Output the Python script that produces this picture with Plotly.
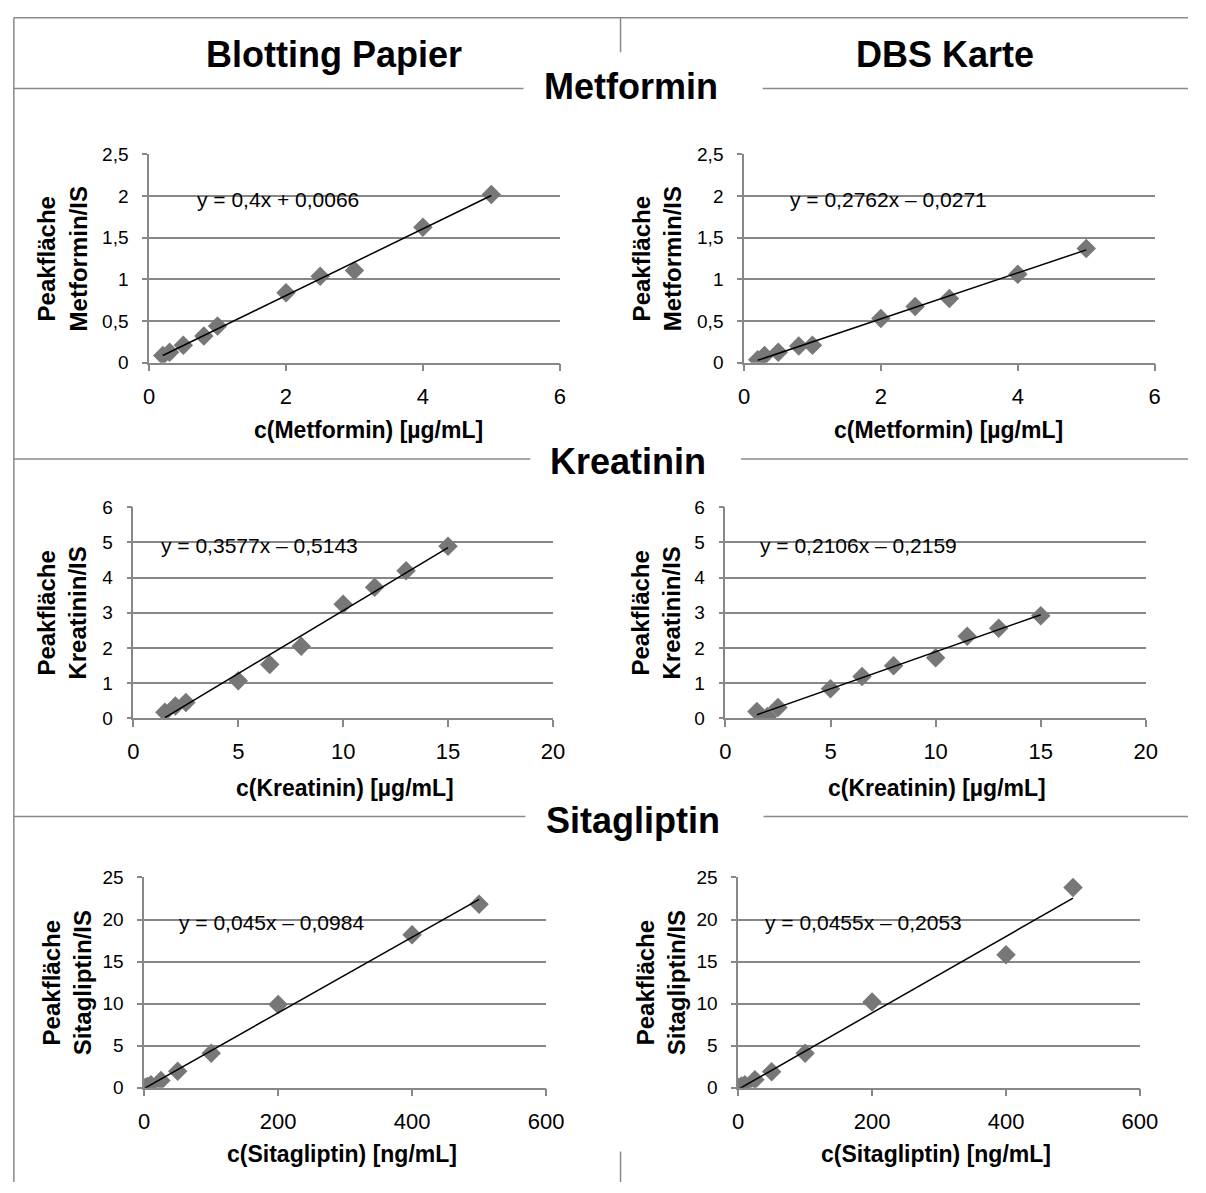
import plotly.graph_objects as go

W, H = 1206, 1193

# ---------------- data ----------------
met_x = [0.2, 0.3, 0.5, 0.8, 1, 2, 2.5, 3, 4, 5]
met_bp_y = [0.086, 0.125, 0.21, 0.32, 0.44, 0.84, 1.036, 1.107, 1.625, 2.02]
met_dbs_y = [0.035, 0.086, 0.125, 0.20, 0.21, 0.53, 0.675, 0.77, 1.06, 1.37]

kre_x = [1.5, 2, 2.5, 5, 6.5, 8, 10, 11.5, 13, 15]
kre_bp_y = [0.17, 0.35, 0.45, 1.07, 1.53, 2.05, 3.24, 3.72, 4.19, 4.89]
kre_dbs_y = [0.19, 0.05, 0.31, 0.84, 1.19, 1.49, 1.72, 2.33, 2.56, 2.91]

sit_x = [1, 5, 10, 25, 50, 100, 200, 400, 500]
sit_bp_y = [0.05, 0.15, 0.35, 0.85, 1.95, 4.1, 9.9, 18.2, 21.8]
sit_dbs_y = [0.05, 0.2, 0.35, 0.95, 1.9, 4.1, 10.2, 15.8, 23.8]

# trendline coefficients (slope, intercept) as printed
fits = [(0.4, 0.0066), (0.2762, -0.0271),
        (0.3577, -0.5143), (0.2106, -0.2159),
        (0.045, -0.0984), (0.0455, -0.2053)]
eq_texts = ["y = 0,4x + 0,0066", "y = 0,2762x \u2013 0,0271",
            "y = 0,3577x \u2013 0,5143", "y = 0,2106x \u2013 0,2159",
            "y = 0,045x \u2013 0,0984", "y = 0,0455x \u2013 0,2053"]

headers = ["Blotting Papier", "DBS Karte"]
sections = ["Metformin", "Kreatinin", "Sitagliptin"]
x_titles = ["c(Metformin) [\u00b5g/mL]", "c(Kreatinin) [\u00b5g/mL]", "c(Sitagliptin) [ng/mL]"]
y_titles = ["Peakfl\u00e4che<br>Metformin/IS", "Peakfl\u00e4che<br>Kreatinin/IS",
            "Peakfl\u00e4che<br>Sitagliptin/IS"]

# ---------------- layout geometry (pixels) ----------------
panels = [
    dict(px=(146, 565), py=(147, 359), xr=(0, 6), xd=2, yr=(0, 2.5), yd=0.5, eqy=2, eqx=278, bg=(173, 385), ytx=57, xtx=370, xty=428),
    dict(px=(753, 1172), py=(147, 359), xr=(0, 6), xd=2, yr=(0, 2.5), yd=0.5, eqy=2, eqx=900, bg=(776, 1027), ytx=664, xtx=962, xty=428),
    dict(px=(130, 558), py=(506, 721), xr=(0, 20), xd=5, yr=(0, 6), yd=1, eqy=5, eqx=259, bg=(133, 386), ytx=57, xtx=346, xty=792),
    dict(px=(734, 1163), py=(506, 721), xr=(0, 20), xd=5, yr=(0, 6), yd=1, eqy=5, eqx=870, bg=(745, 997), ytx=663, xtx=950, xty=792),
    dict(px=(141, 551), py=(883, 1097), xr=(0, 600), xd=200, yr=(0, 25), yd=5, eqy=20, eqx=271, bg=(145, 398), ytx=62, xtx=343, xty=1165),
    dict(px=(747, 1157), py=(883, 1097), xr=(0, 600), xd=200, yr=(0, 25), yd=5, eqy=20, eqx=875, bg=(748, 1002), ytx=668, xtx=949, xty=1165),
]

series = [(met_x, met_bp_y), (met_x, met_dbs_y),
          (kre_x, kre_bp_y), (kre_x, kre_dbs_y),
          (sit_x, sit_bp_y), (sit_x, sit_dbs_y)]


def fx(p):
    return p / W


def fy(p):
    return 1 - p / H


FONT = "Liberation Sans, Arial, Helvetica, sans-serif"
GREY = "#878787"
MARK = "#777777"

fig = go.Figure()
layout = dict(width=W, height=H, margin=dict(l=0, r=0, t=0, b=0),
              paper_bgcolor="white", plot_bgcolor="white", showlegend=False,
              separators=",.", font=dict(family=FONT, color="black"))
annotations = []
shapes = []

for i, (pan, (xs, ys)) in enumerate(zip(panels, series)):
    n = i + 1
    xa = "x" if n == 1 else f"x{n}"
    ya = "y" if n == 1 else f"y{n}"
    xkey = "xaxis" if n == 1 else f"xaxis{n}"
    ykey = "yaxis" if n == 1 else f"yaxis{n}"
    layout[xkey] = dict(domain=[fx(pan["px"][0]), fx(pan["px"][1])], anchor=ya,
                        range=list(pan["xr"]), dtick=pan["xd"], tick0=0,
                        showgrid=False, zeroline=False, showline=True,
                        linecolor=GREY, linewidth=1.5, ticks="outside", ticklen=7,
                        tickcolor=GREY, tickwidth=1.5, ticklabelstandoff=6,
                        tickfont=dict(size=22, family=FONT, color="black"))
    layout[ykey] = dict(domain=[fy(pan["py"][1]), fy(pan["py"][0])], anchor=xa,
                        range=list(pan["yr"]), dtick=pan["yd"], tick0=0,
                        showgrid=True, gridcolor=GREY, gridwidth=1.5,
                        zeroline=False, showline=True, linecolor=GREY, linewidth=1.5,
                        ticks="outside", ticklen=5, tickcolor=GREY, tickwidth=1.5,
                        ticklabelstandoff=10,
                        tickfont=dict(size=19, family=FONT, color="black"))
    fig.add_trace(go.Scatter(x=xs, y=ys, mode="markers", xaxis=xa, yaxis=ya,
                             marker=dict(symbol="diamond", size=15, color=MARK,
                                         line=dict(width=0))))
    m, b = fits[i]
    xl = [min(xs), max(xs)]
    fig.add_trace(go.Scatter(x=xl, y=[m * v + b for v in xl], mode="lines",
                             xaxis=xa, yaxis=ya,
                             line=dict(color="black", width=1.5)))
    # white box behind equation
    shapes.append(dict(type="line", xref="paper", yref=ya,
                       x0=fx(pan["bg"][0]), x1=fx(pan["bg"][1]),
                       y0=pan["eqy"], y1=pan["eqy"], layer="between",
                       line=dict(color="white", width=26)))
    annotations.append(dict(text=eq_texts[i], xref="paper", yref=ya,
                            x=fx(pan["eqx"]), y=pan["eqy"], yshift=-3,
                            showarrow=False, xanchor="center", yanchor="middle",
                            font=dict(size=21, family=FONT, color="black")))
    # axis titles
    annotations.append(dict(text=y_titles[i // 2], xref="paper", yref="paper",
                            x=fx(pan["ytx"]), y=fy((pan["py"][0] + pan["py"][1]) / 2),
                            textangle=-90, showarrow=False,
                            xanchor="center", yanchor="middle",
                            font=dict(size=24, family=FONT, color="black", weight="bold")))
    annotations.append(dict(text=x_titles[i // 2], xref="paper", yref="paper",
                            x=fx(pan["xtx"]), y=fy(pan["xty"]), showarrow=False,
                            xanchor="center", yanchor="middle",
                            font=dict(size=23, family=FONT, color="black", weight="bold")))

# headers
for txt, cx in zip(headers, [335, 958]):
    annotations.append(dict(text=txt, xref="paper", yref="paper", x=fx(cx), y=fy(45),
                            showarrow=False, xanchor="center", yanchor="middle",
                            font=dict(size=36, family=FONT, color="black", weight="bold")))
for txt, cx, cy in zip(sections, [638, 635, 640], [78, 460, 825]):
    annotations.append(dict(text=txt, xref="paper", yref="paper", x=fx(cx), y=fy(cy),
                            showarrow=False, xanchor="center", yanchor="middle",
                            font=dict(size=36, family=FONT, color="black", weight="bold")))

# frame lines
LINE = dict(color="#8a8a8a", width=1.5)
frame = [
    (8, 8, 1206, 8), (8, 8, 8, 1193), (627, 8, 627, 43),
    (8, 80, 528, 80), (772, 80, 1206, 80),
    (8, 457, 535, 457), (750, 457, 1206, 457),
    (8, 821, 530, 821), (773, 821, 1206, 821),
    (627, 1162, 627, 1193),
]
for x0, y0, x1, y1 in frame:
    shapes.append(dict(type="line", xref="paper", yref="paper",
                       x0=fx(x0), y0=fy(y0), x1=fx(x1), y1=fy(y1), line=LINE))

layout["annotations"] = annotations
layout["shapes"] = shapes
fig.update_layout(**layout)
fig.write_html("out.html")
